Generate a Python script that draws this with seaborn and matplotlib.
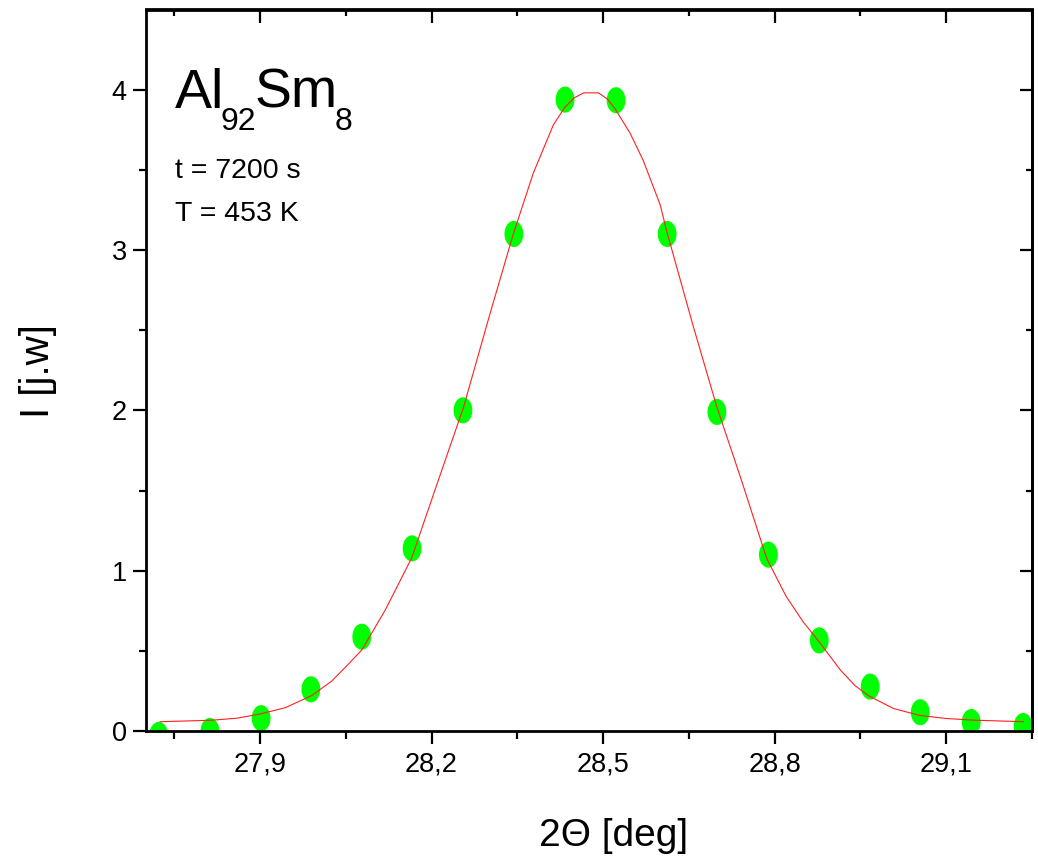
import numpy as np
import matplotlib
matplotlib.use("Agg")
import matplotlib.pyplot as plt
from matplotlib.path import Path
from matplotlib.markers import MarkerStyle
import seaborn as sns
import pandas as pd

# ---- data ----
meas_x = [27.723, 27.8125, 27.902, 27.989, 28.078, 28.166, 28.255, 28.344, 28.4335,
          28.5227, 28.612, 28.699, 28.789, 28.878, 28.967, 29.0545, 29.1437, 29.2346]
meas_y = [-0.025, 0.0, 0.08, 0.26, 0.588, 1.139, 2.0, 3.10, 3.938,
          3.934, 3.10, 1.99, 1.10, 0.565, 0.277, 0.117, 0.056, 0.031]

fit_x = [27.725, 27.815, 27.86, 27.9, 27.944, 27.99, 28.025, 28.05, 28.078, 28.119, 28.165,
         28.212, 28.256, 28.302, 28.343, 28.378, 28.413, 28.433, 28.45, 28.466, 28.492,
         28.508, 28.521, 28.547, 28.570, 28.6, 28.611, 28.658, 28.699, 28.74, 28.786,
         28.82, 28.85, 28.877, 28.915, 28.94, 28.964, 29.008, 29.054, 29.1, 29.145, 29.235]
fit_y = [0.058, 0.067, 0.08, 0.106, 0.145, 0.22, 0.31, 0.40, 0.505, 0.754, 1.077,
         1.565, 2.02, 2.60, 3.10, 3.48, 3.78, 3.89, 3.95, 3.98, 3.98,
         3.94, 3.88, 3.73, 3.56, 3.28, 3.12, 2.52, 2.02, 1.585, 1.077,
         0.84, 0.68, 0.56, 0.38, 0.285, 0.22, 0.14, 0.097, 0.078, 0.068, 0.058]

x_major = [27.9, 28.2, 28.5, 28.8, 29.1]
x_major_labels = ["27,9", "28,2", "28,5", "28,8", "29,1"]
x_minor = [27.75, 28.05, 28.35, 28.65, 28.95, 29.25]
y_major = [0, 1, 2, 3, 4]
y_minor = [0.5, 1.5, 2.5, 3.5]

sns.set_theme(style="ticks")
plt.rcParams['font.family'] = ['Liberation Sans', 'DejaVu Sans']
plt.rcParams['text.color'] = 'black'
plt.rcParams['axes.labelcolor'] = 'black'
plt.rcParams['xtick.color'] = 'black'
plt.rcParams['ytick.color'] = 'black'
plt.rcParams['axes.edgecolor'] = 'black'

W, H = 1038, 857
fig = plt.figure(figsize=(W / 100, H / 100), dpi=100)
L, R, T, B = 145.6, 1032, 9.5, 731
ax = fig.add_axes([L / W, 1 - B / H, (R - L) / W, (B - T) / H])

# elliptical marker (taller than wide)
th = np.linspace(0, 2 * np.pi, 60)
verts = np.column_stack([0.36 * np.cos(th), 0.5 * np.sin(th)])
ell = Path(verts, closed=True)

df_m = pd.DataFrame({"x": meas_x, "y": meas_y})
df_f = pd.DataFrame({"x": fit_x, "y": fit_y})

sns.scatterplot(data=df_m, x="x", y="y", ax=ax, marker=MarkerStyle(ell), s=18.8 ** 2,
                color="#00ff00", edgecolor="none", linewidth=0, zorder=2)
sns.lineplot(data=df_f, x="x", y="y", ax=ax, sort=False, estimator=None,
             color="#ff2020", linewidth=0.8, zorder=3)

ax.set_xlim(27.7, 29.25)
ax.set_ylim(0, 4.5)
ax.set_xlabel("")
ax.set_ylabel("")

for s in ax.spines.values():
    s.set_visible(True)
    s.set_linewidth(2.0)
    s.set_color("black")

ax.set_xticks(x_major)
ax.set_xticklabels(x_major_labels)
ax.set_xticks(x_minor, minor=True)
ax.set_yticks(y_major)
ax.set_yticks(y_minor, minor=True)
ax.tick_params(axis="x", which="major", direction="out", length=9.5, width=1.6,
               labelsize=19.5, pad=5, colors="black")
ax.tick_params(axis="x", which="minor", direction="out", length=5.5, width=1.6)
ax.tick_params(axis="y", which="major", direction="out", length=9.5, width=1.6,
               labelsize=19.5, pad=4, colors="black")
ax.tick_params(axis="y", which="minor", direction="out", length=5.0, width=1.6)
ax.grid(False)

top = ax.secondary_xaxis("top")
top.set_xticks(x_major)
top.set_xticks(x_minor, minor=True)
top.tick_params(axis="x", which="major", direction="in", length=10, width=1.6, labeltop=False)
top.tick_params(axis="x", which="minor", direction="in", length=5, width=1.6)
top.spines["top"].set_linewidth(2.0)

right = ax.secondary_yaxis("right")
right.set_yticks(y_major)
right.set_yticks(y_minor, minor=True)
right.tick_params(axis="y", which="major", direction="in", length=9, width=1.6, labelright=False)
right.tick_params(axis="y", which="minor", direction="in", length=4, width=1.6)
right.spines["right"].set_linewidth(2.0)

# axis labels
fig.text(614 / W, 1 - 836 / H, "2\u0398 [deg]", ha="center", va="center", fontsize=28)
fig.text(38 / W, 1 - 371 / H, "I [j.w]", ha="center", va="center", fontsize=29, rotation=90)

# annotations
def ftext(px, py, s, size):
    fig.text(px / W, 1 - py / H, s, ha="left", va="baseline", fontsize=size)

ftext(175, 108, "Al", 40)
ftext(220, 130, "92", 23)
ftext(255, 108, "Sm", 40)
ftext(335, 130, "8", 23)
ftext(175, 178, "t = 7200 s", 20.5)
ftext(175, 221, "T = 453 K", 20.5)

fig.savefig("out.png", dpi=100)
